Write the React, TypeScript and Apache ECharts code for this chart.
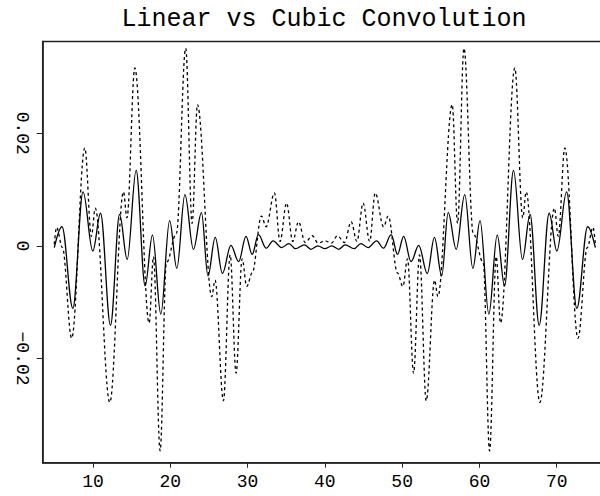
import React, { useEffect, useRef } from "react";
import * as echarts from "echarts";

const titleText = "Linear vs Cubic Convolution";

const xTicks = [10, 20, 30, 40, 50, 60, 70];
const yTicks = [-0.02, 0, 0.02];

const cubicX = [
  5.0, 6.0, 7.4, 8.72, 9.98, 10.98, 12.27, 13.45, 14.43, 15.59, 16.75, 17.7,
  18.78, 19.92, 20.85, 21.9, 23.0, 24.04, 24.88, 25.82, 26.75, 27.85, 28.85,
  29.8, 30.6, 31.41, 32.42, 33.3, 34.4, 35.35, 36.2, 37.36, 38.2, 39.09, 40.0,
  40.91, 41.8, 42.64, 43.8, 44.65, 45.6, 46.7, 47.58, 48.59, 49.4, 50.2, 51.15,
  52.15, 53.25, 54.18, 55.12, 55.96, 57.0, 58.1, 59.15, 60.08, 61.22, 62.3,
  63.25, 64.41, 65.57, 66.55, 67.73, 69.02, 70.02, 71.28, 72.6, 74.0, 75.0,
];
const cubicY = [
  -0.0003, 0.0034, -0.0111, 0.0096, -0.0009, 0.0058, -0.0141, 0.0056, -0.0024,
  0.0134, -0.0071, 0.0019, -0.0121, 0.0045, -0.004, 0.0091, -0.0006, 0.0059,
  -0.0053, 0.0015, -0.0049, 0.0001, -0.0028, 0.0017, -0.0015, 0.002, -0.0004,
  0.0009, -0.0003, 0.0004, -0.0005, 0.0002, -0.0006, 0.0, -0.0005,
  0.0, -0.0006, 0.0002, -0.0005, 0.0004, -0.0003, 0.0009, -0.0004, 0.002,
  -0.0015, 0.0017, -0.0028, 0.0001, -0.0049, 0.0015, -0.0053, 0.0059, -0.0006,
  0.0091, -0.004, 0.0045, -0.0121, 0.0019, -0.0071, 0.0134, -0.0024, 0.0056,
  -0.0141, 0.0058, -0.0009, 0.0096, -0.0111, 0.0034, -0.0003,
];

const linearX = [
  5.0, 5.3, 6.05, 7.25, 8.95, 9.8, 10.3, 12.18, 13.95, 14.4, 15.42, 17.27,
  17.83, 18.69, 19.5, 20.8, 22.0, 22.83, 23.52, 25.37, 25.8, 26.88, 27.75,
  28.52, 29.3, 29.9, 30.6, 31.8, 32.4, 33.48, 34.2, 35.05, 35.85, 36.6, 37.45,
  38.38, 39.13, 40.0, 40.87, 41.62, 42.55, 43.4, 44.15, 44.95, 45.8, 46.52,
  47.6, 48.2, 49.4, 50.1, 50.7, 51.48, 52.25, 53.12, 54.2, 54.63, 56.48, 57.17,
  58.0, 59.2, 60.5, 61.31, 62.17, 62.73, 64.58, 65.6, 66.05, 67.82, 69.7, 70.2,
  71.05, 72.75, 73.95, 74.7, 75.0,
];
const linearY = [
  0.0003, 0.0033, -0.0003, -0.0164, 0.0174, 0.0017, 0.0067, -0.0278, 0.0096,
  0.005, 0.0316, -0.0137, -0.0019, -0.0364, -0.003, 0.0022, 0.0351, 0.004,
  0.0251, -0.009, -0.0061, -0.0275, -0.0016, -0.0226, -0.0023, -0.0072,
  -0.0048, 0.0053, 0.0034, 0.0094, 0.0008, 0.0076, 0.0008, 0.0043, 0.0006,
  0.0018, 0.0005, 0.0009, 0.0005, 0.0018, 0.0006, 0.0043, 0.0008, 0.0076,
  0.0008, 0.0094, 0.0034, 0.0053, -0.0048, -0.0072, -0.0023, -0.0226, -0.0016,
  -0.0275, -0.0061, -0.009, 0.0251, 0.004, 0.0351, 0.0022, -0.003, -0.0364,
  -0.0019, -0.0137, 0.0316, 0.005, 0.0096, -0.0278, 0.0067, 0.0017, 0.0174,
  -0.0164, -0.0003, 0.0033, 0.0003,
];

const MONO = "'Liberation Mono', 'DejaVu Sans Mono', monospace";

export default function App() {
  const ref = useRef<HTMLDivElement>(null);

  useEffect(() => {
    document.body.style.overflow = "hidden";
    if (!ref.current) return;
    const chart = echarts.init(ref.current, undefined, { renderer: "svg" });

    const cubicData = cubicX.map((x, i) => [x, cubicY[i]]);
    const linearData = linearX.map((x, i) => [x, linearY[i]]);

    chart.setOption({
      animation: false,
      backgroundColor: "#ffffff",
      title: {
        text: titleText,
        left: 324,
        top: 7,
        padding: 0,
        textAlign: "center",
        textStyle: {
          fontFamily: MONO,
          fontSize: 25,
          fontWeight: "normal",
          color: "#000",
        },
      },
      grid: {
        left: 42.7,
        top: 41.5,
        width: 560.4,
        height: 421.2,
        show: true,
        borderColor: "#222",
        borderWidth: 1.5,
        backgroundColor: "transparent",
        outerBoundsMode: "none",
      },
      xAxis: {
        type: "value",
        min: 3.5,
        max: 76,
        axisLine: {
          show: true,
          onZero: false,
          lineStyle: { color: "#222", width: 1.5 },
        },
        axisTick: {
          show: true,
          inside: false,
          length: 5,
          customValues: xTicks,
          lineStyle: { color: "#222", width: 1 },
        },
        axisLabel: {
          show: true,
          margin: 10,
          customValues: xTicks,
          fontFamily: MONO,
          fontSize: 18,
          color: "#000",
        },
        splitLine: { show: false },
      },
      yAxis: {
        type: "value",
        min: -0.0385,
        max: 0.0363,
        axisLine: {
          show: true,
          onZero: false,
          lineStyle: { color: "#222", width: 1.5 },
        },
        axisTick: {
          show: true,
          inside: false,
          length: 6,
          customValues: yTicks,
          lineStyle: { color: "#222", width: 1 },
        },
        axisLabel: {
          show: true,
          rotate: -90,
          margin: 12,
          customValues: yTicks,
          fontFamily: MONO,
          fontSize: 18,
          color: "#000",
          formatter: (v: number) =>
            v === 0 ? "0" : (v < 0 ? "\u2212" : "") + Math.abs(v).toFixed(2),
        },
        splitLine: { show: false },
      },
      series: [
        {
          name: "Linear",
          type: "line",
          data: linearData,
          showSymbol: false,
          smooth: 0.36,
          smoothMonotone: "x",
          clip: true,
          lineStyle: { color: "#000", width: 1.3, type: [3, 3] },
        },
        {
          name: "Cubic",
          type: "line",
          data: cubicData,
          showSymbol: false,
          smooth: 0.36,
          smoothMonotone: "x",
          clip: true,
          lineStyle: { color: "#000", width: 1.3, type: "solid" },
        },
      ],
    });

    return () => {
      chart.dispose();
    };
  }, []);

  return (
    <div
      ref={ref}
      style={{
        position: "fixed",
        left: 0,
        top: 0,
        width: 606,
        height: 496,
        background: "#fff",
      }}
    />
  );
}
